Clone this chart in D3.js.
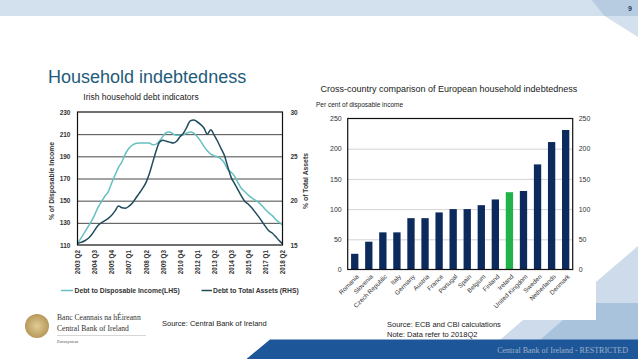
<!DOCTYPE html>
<html><head><meta charset="utf-8">
<script src="https://cdn.jsdelivr.net/npm/d3@7"></script>
<style>body{margin:0;background:#fff}svg{display:block;font-family:"Liberation Sans",Arial,sans-serif}</style>
</head><body><svg id="c" width="638" height="359"></svg>
<script>
// ---------- DATA ----------
const quarters = ["2003Q2","2003Q3","2003Q4",
"2004Q1","2004Q2","2004Q3","2004Q4","2005Q1","2005Q2","2005Q3","2005Q4",
"2006Q1","2006Q2","2006Q3","2006Q4","2007Q1","2007Q2","2007Q3","2007Q4",
"2008Q1","2008Q2","2008Q3","2008Q4","2009Q1","2009Q2","2009Q3","2009Q4",
"2010Q1","2010Q2","2010Q3","2010Q4","2011Q1","2011Q2","2011Q3","2011Q4",
"2012Q1","2012Q2","2012Q3","2012Q4","2013Q1","2013Q2","2013Q3","2013Q4",
"2014Q1","2014Q2","2014Q3","2014Q4","2015Q1","2015Q2","2015Q3","2015Q4",
"2016Q1","2016Q2","2016Q3","2016Q4","2017Q1","2017Q2","2017Q3","2017Q4",
"2018Q1","2018Q2"];
const debtToIncome = [111.5,116,121,126,131,137,144,149,154,158,166,173,180,185,192,197,200,201.5,202,202,
202,202,200.5,201,204,208,211.5,212,210,209,209,209.5,211,212,211,208,204,199,195,192,
190.5,189.5,187.5,184,178,175.5,172,166,161,158,155,152.5,150.5,148.5,145.5,142,139,136.5,133,130.5,128];
const debtToAssets = [15.2,15.3,15.45,15.7,16.1,16.65,17.2,17.5,17.75,18.0,18.35,18.85,19.4,19.2,19.15,19.35,19.7,20.25,20.8,21.35,
22.0,23.0,24.3,25.6,26.6,26.8,26.7,26.6,26.5,26.7,27.2,27.6,28.3,29.0,29.1,28.9,28.6,28.2,27.5,28.0,
27.4,26.7,25.9,25.1,23.8,22.6,21.9,21.2,20.5,19.9,19.6,19.2,18.7,18.2,17.65,17.1,16.6,16.35,15.95,15.5,15.15];
const quarterTicks = ["2003Q2","2004Q3","2005Q4","2007Q1","2008Q2","2009Q3","2010Q4","2012Q1","2013Q2","2014Q3","2015Q4","2017Q1","2018Q2"];
const leftTicks = [110,130,150,170,190,210,230];
const rightTicks = [15,20,25,30];

const countries = ["Romania","Slovenia","Czech Republic","Italy","Germany","Austria","France","Portugal","Spain","Belgium","Finland","Ireland","United Kingdom","Sweden","Netherlands","Denmark"];
const householdDebt = [26,46,61.5,61.5,85,85,94.5,100,100,106.5,116,128,130,174,211,231];
const barTicks = [0,50,100,150,200,250];

// ---------- SVG ----------
const svg = d3.select("#c");

// header decorations
svg.append("rect").attr("x",0).attr("y",0).attr("width",638).attr("height",16).attr("fill","#d3e0ed");
svg.append("polygon").attr("points","591.7,0 638,0 638,16 604.5,16").attr("fill","#b7cce1");
svg.append("polygon").attr("points","604.5,16 638,16 638,37").attr("fill","#d3e0ed");
svg.append("text").attr("x",630).attr("y",11).attr("font-size",7).attr("font-weight","bold").attr("fill","#1c3f66").attr("text-anchor","middle").text("9");

// bottom-right decorations
svg.append("polygon").attr("points","596,282 638,246 638,359 596,359").attr("fill","#cddbeb");
svg.append("polygon").attr("points","500,340 523,320 638,320 638,340").attr("fill","#cddbeb");
svg.append("polygon").attr("points","540,340 563,320 596,320 596,303 638,303 638,340").attr("fill","#a9c3dd");
svg.append("polygon").attr("points","270,339.5 638,339.5 638,359 246.5,359").attr("fill","#1d5799");
svg.append("text").attr("x",628).attr("y",353).attr("text-anchor","end").attr("font-family","'Liberation Serif','DejaVu Serif',serif")
  .attr("font-size",8).attr("fill","#9fb0c8").text("Central Bank of Ireland - RESTRICTED");

// heading
svg.append("text").attr("x",48).attr("y",83).attr("font-size",18).attr("fill","#1f5b7a").text("Household indebtedness");

// ---------- LEFT CHART ----------
const L = {x0:77.5, x1:282.5, y0:112, y1:245};
const xL = d3.scalePoint().domain(quarters).range([L.x0, L.x1]);
const yL = d3.scaleLinear().domain([110,230]).range([L.y1, L.y0]);
const yR = d3.scaleLinear().domain([15,30]).range([L.y1, L.y0]);

svg.append("text").attr("x",141).attr("y",100).attr("text-anchor","middle").attr("font-size",8.5).attr("fill","#222").text("Irish household debt indicators");

// gridlines
const gL = svg.append("g").attr("transform",`translate(${L.x0},0)`)
  .call(d3.axisLeft(yL).tickValues(leftTicks.slice(1,-1)).tickSize(-(L.x1-L.x0)).tickFormat(""));
gL.select(".domain").remove();
gL.selectAll("line").attr("stroke","#333").attr("stroke-width",0.9);

// left axis labels
const aL = svg.append("g").attr("transform",`translate(${L.x0},0)`)
  .call(d3.axisLeft(yL).tickValues(leftTicks).tickSize(0).tickPadding(7));
aL.select(".domain").remove();
aL.selectAll("text").attr("font-size",6.5).attr("font-weight","bold").attr("fill","#333").attr("font-family","'Liberation Sans',Arial,sans-serif");

const aR = svg.append("g").attr("transform",`translate(${L.x1},0)`)
  .call(d3.axisRight(yR).tickValues(rightTicks).tickSize(0).tickPadding(8));
aR.select(".domain").remove();
aR.selectAll("text").attr("font-size",6.5).attr("font-weight","bold").attr("fill","#333").attr("font-family","'Liberation Sans',Arial,sans-serif");

// x labels
const aX = svg.append("g").attr("transform",`translate(0,${L.y1})`)
  .call(d3.axisBottom(xL).tickValues(quarterTicks).tickSize(0).tickFormat(d=>d.slice(0,4)+" "+d.slice(4)));
aX.select(".domain").remove();
aX.selectAll("text").attr("font-size",6.3).attr("font-weight","bold").attr("fill","#333")
  .attr("font-family","'Liberation Sans',Arial,sans-serif")
  .attr("text-anchor","end").attr("transform","rotate(-90)").attr("x",-5).attr("y",0).attr("dy","0.35em");

// lines
const lineL = d3.line().x((d,i)=>xL(quarters[i])).y(d=>yL(d)).curve(d3.curveMonotoneX);
const lineR = d3.line().x((d,i)=>xL(quarters[i])).y(d=>yR(d)).curve(d3.curveMonotoneX);
svg.append("path").datum(debtToIncome).attr("d",lineL).attr("fill","none").attr("stroke","#66c0c0").attr("stroke-width",1.5);
svg.append("path").datum(debtToAssets).attr("d",lineR).attr("fill","none").attr("stroke","#1f4b5c").attr("stroke-width",1.5);

// frame
svg.append("rect").attr("x",L.x0).attr("y",L.y0).attr("width",L.x1-L.x0).attr("height",L.y1-L.y0)
  .attr("fill","none").attr("stroke","#111").attr("stroke-width",1.2);

// axis titles
svg.append("text").attr("transform","translate(54,181) rotate(-90)").attr("text-anchor","middle")
  .attr("font-size",6.8).attr("font-weight","bold").attr("fill","#333").text("% of Disposable Income");
svg.append("text").attr("transform","translate(308,181) rotate(-90)").attr("text-anchor","middle")
  .attr("font-size",6.8).attr("font-weight","bold").attr("fill","#333").text("% of Total Assets");

// legend
const leg = svg.append("g").attr("font-size",6.8).attr("font-weight","bold").attr("fill","#333");
leg.append("line").attr("x1",61).attr("x2",73).attr("y1",290.5).attr("y2",290.5).attr("stroke","#66c0c0").attr("stroke-width",1.5);
leg.append("text").attr("x",74.5).attr("y",293).text("Debt to Disposable Income(LHS)");
leg.append("line").attr("x1",201.5).attr("x2",212).attr("y1",290.5).attr("y2",290.5).attr("stroke","#1f4b5c").attr("stroke-width",1.5);
leg.append("text").attr("x",213).attr("y",293).text("Debt to Total Assets (RHS)");

svg.append("text").attr("x",162).attr("y",325.5).attr("font-size",7.5).attr("fill","#222").text("Source: Central Bank of Ireland");

// ---------- RIGHT CHART ----------
const R = {x0:347.7, x1:572.7, y0:118.5, y1:269.5};
const xB = d3.scaleBand().domain(countries).range([R.x0,R.x1]).paddingInner(0.48).paddingOuter(0.24);
const yB = d3.scaleLinear().domain([0,250]).range([R.y1,R.y0]);

svg.append("text").attr("x",320.5).attr("y",92).attr("font-size",9).attr("fill","#222").text("Cross-country comparison of European household indebtedness");
svg.append("text").attr("x",316).attr("y",107).attr("font-size",6.5).attr("fill","#222").text("Per cent of disposable income");

const gB = svg.append("g").attr("transform",`translate(${R.x0},0)`)
  .call(d3.axisLeft(yB).tickValues(barTicks.slice(1,-1)).tickSize(-(R.x1-R.x0)).tickFormat(""));
gB.select(".domain").remove();
gB.selectAll("line").attr("stroke","#c8c8c8").attr("stroke-width",0.8);

const bL = svg.append("g").attr("transform",`translate(${R.x0},0)`)
  .call(d3.axisLeft(yB).tickValues(barTicks).tickSize(0).tickPadding(6));
bL.select(".domain").remove();
bL.selectAll("text").attr("font-size",7).attr("fill","#333").attr("font-family","'Liberation Sans',Arial,sans-serif");
const bR = svg.append("g").attr("transform",`translate(${R.x1},0)`)
  .call(d3.axisRight(yB).tickValues(barTicks).tickSize(0).tickPadding(6));
bR.select(".domain").remove();
bR.selectAll("text").attr("font-size",7).attr("fill","#333").attr("font-family","'Liberation Sans',Arial,sans-serif");

svg.append("g").selectAll("rect").data(countries).join("rect")
  .attr("x",d=>xB(d)).attr("width",xB.bandwidth())
  .attr("y",(d,i)=>yB(householdDebt[i])).attr("height",(d,i)=>yB(0)-yB(householdDebt[i]))
  .attr("fill",d=>d==="Ireland"?"#22b24c":"#0c2a5c");

const bX = svg.append("g").attr("transform",`translate(0,${R.y1})`)
  .call(d3.axisBottom(xB).tickSize(0));
bX.select(".domain").remove();
bX.selectAll("text").attr("font-size",6.3).attr("fill","#333").attr("font-family","'Liberation Sans',Arial,sans-serif")
  .attr("text-anchor","end").attr("transform","translate(3,6) rotate(-45)").attr("y",0).attr("dy","0.35em");

svg.append("rect").attr("x",R.x0).attr("y",R.y0).attr("width",R.x1-R.x0).attr("height",R.y1-R.y0)
  .attr("fill","none").attr("stroke","#111").attr("stroke-width",1.2);

svg.append("text").attr("x",387).attr("y",327).attr("font-size",7.5).attr("fill","#222").text("Source: ECB and CBI calculations");
svg.append("text").attr("x",387).attr("y",337).attr("font-size",7.5).attr("fill","#222").text("Note: Data refer to 2018Q2");

// ---------- LOGO ----------
const grad = svg.append("defs").append("radialGradient").attr("id","gold");
grad.append("stop").attr("offset","0%").attr("stop-color","#e0cc95");
grad.append("stop").attr("offset","100%").attr("stop-color","#b8985a");
svg.append("circle").attr("cx",37).attr("cy",326).attr("r",12).attr("fill","url(#gold)");
const serif = "'Liberation Serif','DejaVu Serif',serif";
svg.append("text").attr("x",57).attr("y",320).attr("font-family",serif).attr("font-size",7.6).attr("fill","#333").text("Banc Ceannais na hÉireann");
svg.append("text").attr("x",57).attr("y",330.5).attr("font-family",serif).attr("font-size",7.6).attr("fill","#333").text("Central Bank of Ireland");
svg.append("line").attr("x1",57).attr("x2",146).attr("y1",335.5).attr("y2",335.5).attr("stroke","#bbb").attr("stroke-width",0.6);
svg.append("text").attr("x",57).attr("y",342.5).attr("font-family",serif).attr("font-size",4.5).attr("fill","#555").text("Eurosystem");
</script></body></html>
